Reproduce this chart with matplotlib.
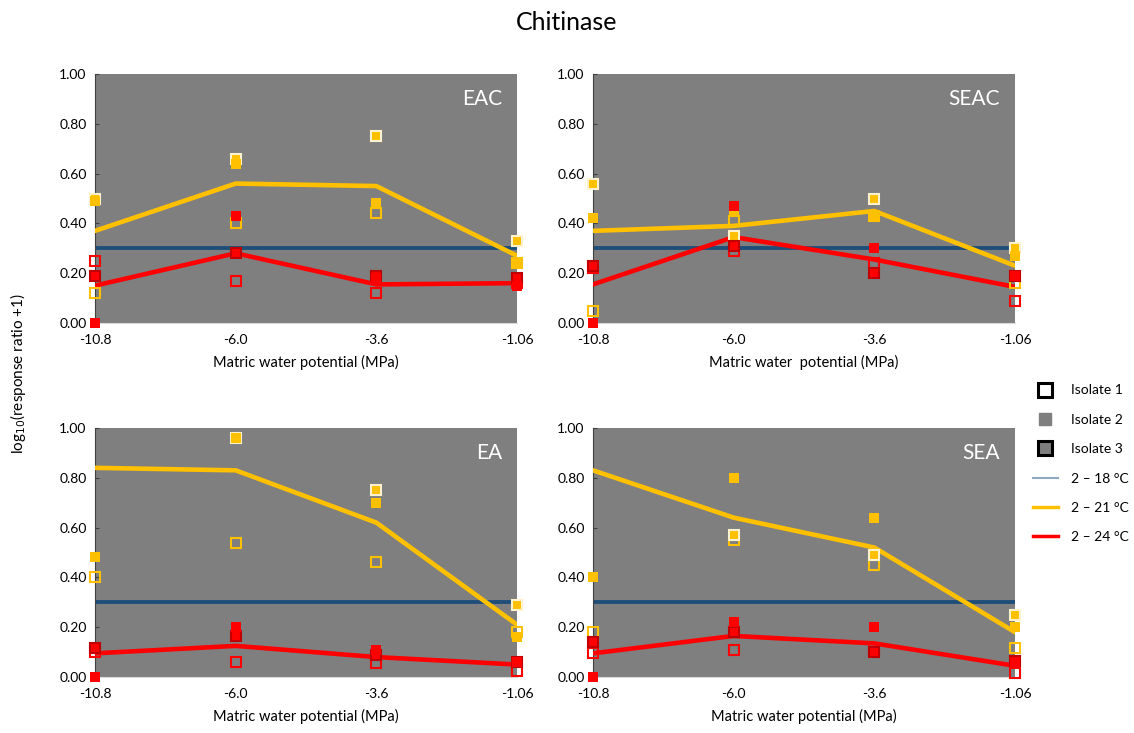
import numpy as np
import matplotlib
matplotlib.use('Agg')
import matplotlib.pyplot as plt
from matplotlib.lines import Line2D

plt.rcParams['font.family'] = ['Lato', 'DejaVu Sans']

x_labels = ['-10.8', '-6.0', '-3.6', '-1.06']
nan = np.nan

# 2-18 °C reference level
base_18 = [0.30, 0.30, 0.30, 0.30]

# EAC
eac_21_iso1 = [0.50, 0.66, 0.75, 0.33]
eac_21_iso2 = [0.49, 0.64, 0.48, 0.24]
eac_21_iso3 = [0.12, 0.40, 0.44, 0.24]
eac_21_mean = [0.37, 0.56, 0.55, 0.27]
eac_24_iso1 = [0.19, 0.28, 0.19, 0.18]
eac_24_iso2 = [0.00, 0.43, 0.18, 0.15]
eac_24_iso3 = [0.25, 0.17, 0.12, 0.16]
eac_24_mean = [0.15, 0.28, 0.155, 0.16]

# SEAC
seac_21_iso1 = [0.56, 0.35, 0.50, 0.30]
seac_21_iso2 = [0.42, 0.45, 0.43, 0.27]
seac_21_iso3 = [0.05, 0.41, 0.43, 0.16]
seac_21_mean = [0.37, 0.39, 0.45, 0.23]
seac_24_iso1 = [0.23, 0.31, 0.20, 0.19]
seac_24_iso2 = [0.00, 0.47, 0.30, 0.19]
seac_24_iso3 = [0.22, 0.29, 0.24, 0.09]
seac_24_mean = [0.155, 0.345, 0.255, 0.145]

# EA
ea_21_iso1 = [nan, 0.96, 0.75, 0.29]
ea_21_iso2 = [0.48, 0.96, 0.70, 0.16]
ea_21_iso3 = [0.40, 0.54, 0.46, 0.18]
ea_21_mean = [0.84, 0.83, 0.62, 0.21]
ea_24_iso1 = [0.115, 0.165, 0.09, 0.06]
ea_24_iso2 = [0.00, 0.20, 0.11, 0.06]
ea_24_iso3 = [0.10, 0.06, 0.055, 0.025]
ea_24_mean = [0.095, 0.125, 0.08, 0.05]

# SEA
sea_21_iso1 = [nan, 0.57, 0.49, 0.25]
sea_21_iso2 = [0.40, 0.80, 0.64, 0.20]
sea_21_iso3 = [0.18, 0.55, 0.45, 0.115]
sea_21_mean = [0.83, 0.64, 0.52, 0.18]
sea_24_iso1 = [0.14, 0.18, 0.10, 0.065]
sea_24_iso2 = [0.00, 0.22, 0.20, 0.06]
sea_24_iso3 = [0.095, 0.11, 0.115, 0.017]
sea_24_mean = [0.095, 0.165, 0.135, 0.045]

panels = [
    ('EAC', (eac_21_iso1, eac_21_iso2, eac_21_iso3, eac_21_mean),
     (eac_24_iso1, eac_24_iso2, eac_24_iso3, eac_24_mean)),
    ('SEAC', (seac_21_iso1, seac_21_iso2, seac_21_iso3, seac_21_mean),
     (seac_24_iso1, seac_24_iso2, seac_24_iso3, seac_24_mean)),
    ('EA', (ea_21_iso1, ea_21_iso2, ea_21_iso3, ea_21_mean),
     (ea_24_iso1, ea_24_iso2, ea_24_iso3, ea_24_mean)),
    ('SEA', (sea_21_iso1, sea_21_iso2, sea_21_iso3, sea_21_mean),
     (sea_24_iso1, sea_24_iso2, sea_24_iso3, sea_24_mean)),
]
xlabels = ['Matric water potential (MPa)', 'Matric water  potential (MPa)',
           'Matric water potential (MPa)', 'Matric water potential (MPa)']

YELLOW = '#FFC000'
RED = '#FF0000'
BLUE = '#1F4E79'
BG = '#7F7F7F'

fig = plt.figure(figsize=(11.34, 7.33), dpi=100)
W, H = 1134, 733
boxes = [(95, 74), (593, 74), (95, 428), (593, 428)]
pw, ph = 422, 249

x = np.arange(len(x_labels))

for (name, s21, s24), (left, top), xl in zip(panels, boxes, xlabels):
    ax = fig.add_axes([left / W, 1 - (top + ph) / H, pw / W, ph / H])
    ax.set_facecolor(BG)
    ax.plot(x, base_18, color=BLUE, lw=2.8, zorder=2)
    ax.plot(x, s21[3], color=YELLOW, lw=3.3, zorder=3)
    ax.plot(x, s24[3], color=RED, lw=3.3, zorder=3)

    for series, col, edge1 in [(s21, YELLOW, '#FFF2CC'), (s24, RED, '#C00000')]:
        ax.plot(x, series[2], ls='none', marker='s', ms=7, mfc='none',
                mec=col, mew=1.5, zorder=4, clip_on=False)
        ax.plot(x, series[0], ls='none', marker='s', ms=7.5, mfc=col,
                mec=edge1, mew=1.5, zorder=5, clip_on=False)
        ax.plot(x, series[1], ls='none', marker='s', ms=6.5, mfc=col,
                mec=col, mew=0, zorder=6, clip_on=False)

    ax.set_xlim(0, 3)
    ax.set_ylim(0, 1)
    ax.set_xticks(x)
    ax.set_xticklabels(x_labels, fontsize=10)
    ax.set_yticks(np.arange(0, 1.01, 0.2))
    ax.set_yticklabels(['%.2f' % v for v in np.arange(0, 1.01, 0.2)], fontsize=10)
    ax.tick_params(axis='x', length=0, pad=8)
    ax.tick_params(axis='y', direction='in', length=3, color='#404040', pad=6)
    for sp in ['top', 'right']:
        ax.spines[sp].set_visible(False)
    ax.spines['left'].set_color('#404040')
    ax.spines['left'].set_linewidth(0.8)
    ax.spines['bottom'].set_color('#D9D9D9')
    ax.set_xlabel(xl, fontsize=10.5, labelpad=6)
    ax.text(0.965, 0.9, name, transform=ax.transAxes, ha='right', va='center',
            color='white', fontsize=15)

fig.text(0.5, 1 - 22 / H, 'Chitinase', ha='center', va='center', fontsize=18)
fig.text(18 / W, 0.49, r'log$_{10}$(response ratio +1)', rotation=90,
         ha='center', va='center', fontsize=11)

handles = [
    Line2D([], [], ls='none', marker='s', ms=10, mfc='white', mec='black', mew=2.2),
    Line2D([], [], ls='none', marker='s', ms=8, mfc=BG, mec=BG),
    Line2D([], [], ls='none', marker='s', ms=10, mfc=BG, mec='black', mew=2.2),
    Line2D([], [], color='#8EA9C1', lw=1.5),
    Line2D([], [], color=YELLOW, lw=2.5),
    Line2D([], [], color=RED, lw=2.5),
]
labels = ['Isolate 1', 'Isolate 2', 'Isolate 3',
          '2 – 18 °C', '2 – 21 °C', '2 – 24 °C']
fig.legend(handles, labels, loc='upper left', bbox_to_anchor=(1020 / W, 1 - 372 / H),
           frameon=False, fontsize=10, handlelength=1.8, labelspacing=1.25,
           handletextpad=1.0)

fig.savefig('out.png', dpi=100)
